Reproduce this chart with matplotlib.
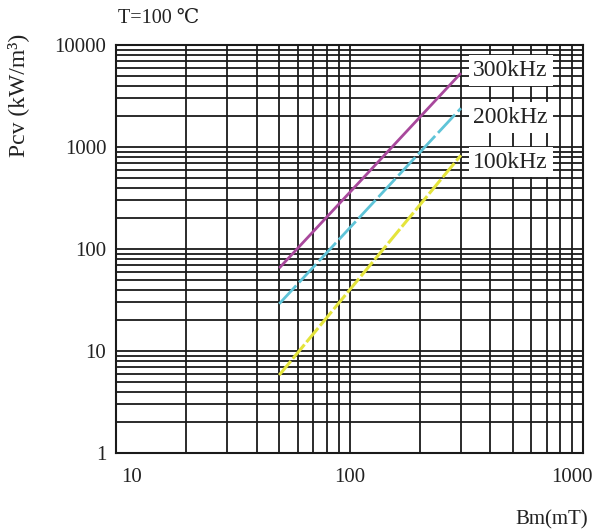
import matplotlib
matplotlib.use("Agg")
import matplotlib.pyplot as plt
from matplotlib.ticker import LogLocator, NullFormatter, FixedLocator
import matplotlib.transforms as mtransforms

# Data
bm = [50, 300]
p_300k = [65, 5300]
p_200k = [29, 2400]
p_100k = [5.8, 830]
series_labels = ["300kHz", "200kHz", "100kHz"]
x_ticks = [10, 100, 1000]
x_ticklabels = ["10", "100", "1000"]
y_ticks = [1, 10, 100, 1000, 10000]
y_ticklabels = ["1", "10", "100", "1000", "10000"]

serif = ["Liberation Serif", "DejaVu Serif"]
plt.rcParams['font.family'] = serif

fig = plt.figure(figsize=(5.95, 5.32), dpi=100)
ax = fig.add_axes([116/595, 1-453/532, (583-116)/595, (453-45)/532])
ax.set_xscale('log')
ax.set_yscale('log')
ax.set_xlim(10, 1000)
ax.set_ylim(1, 10000)

ax.xaxis.set_major_locator(FixedLocator(x_ticks))
ax.yaxis.set_major_locator(FixedLocator(y_ticks))
ax.set_xticklabels(x_ticklabels)
ax.set_yticklabels(y_ticklabels)
ax.xaxis.set_minor_locator(LogLocator(base=10, subs=range(2, 10)))
ax.yaxis.set_minor_locator(LogLocator(base=10, subs=range(2, 10)))
ax.xaxis.set_minor_formatter(NullFormatter())
ax.yaxis.set_minor_formatter(NullFormatter())
ax.tick_params(which='both', length=0, labelsize=15, colors='#222222')
ax.tick_params(axis='x', pad=11)
ax.tick_params(axis='y', pad=7)

ax.grid(True, which='both', color='#1a1a1a', linewidth=1.3)
for s in ax.spines.values():
    s.set_color('#1a1a1a')
    s.set_linewidth(1.5)

# shift first / last x tick labels
lbls = ax.get_xticklabels()
off = mtransforms.ScaledTranslation(16/100, 0, fig.dpi_scale_trans)
lbls[0].set_transform(lbls[0].get_transform() + off)
off2 = mtransforms.ScaledTranslation(-11/100, 0, fig.dpi_scale_trans)
lbls[-1].set_transform(lbls[-1].get_transform() + off2)

ax.plot(bm, p_300k, color='#a8489c', linewidth=2.0, zorder=5, solid_capstyle='butt')
ax.plot(bm, p_200k, color='#5fc4d8', linewidth=2.0, zorder=5, dashes=(9, 1.5))
ax.plot(bm, p_100k, color='#e4e43c', linewidth=2.2, zorder=5, dashes=(6, 1))

# series labels with white boxes
label_y = [5600, 1950, 710]
for txt, yv in zip(series_labels, label_y):
    ax.text(0.845, yv, txt, transform=ax.get_yaxis_transform(), ha='center', va='center',
            fontsize=17, color='#222222', zorder=6,
            bbox=dict(boxstyle='square,pad=0.2', facecolor='white', edgecolor='none'))

fig.text(18/595, 1-95/532, "Pcv (kW/m³)", rotation=90, ha='center', va='center',
         fontsize=17, color='#222222')
fig.text(118/595, 1-18/532, "T=100 \u2103", ha='left', va='center', fontsize=14.5,
         color='#222222')
fig.text(588/595, 1-520/532, "Bm(mT)", ha='right', va='center', fontsize=15,
         color='#222222')

fig.savefig("out.png", dpi=100)
